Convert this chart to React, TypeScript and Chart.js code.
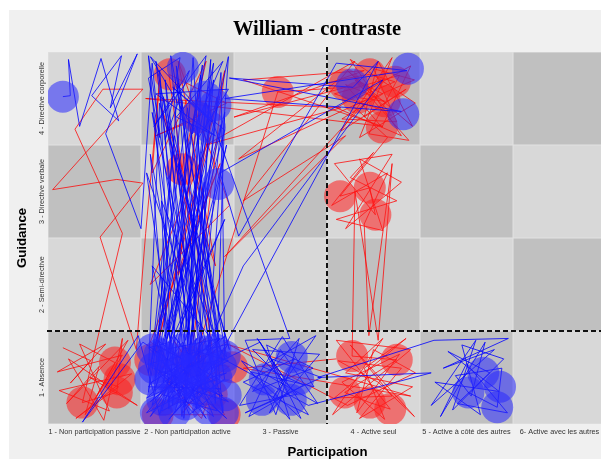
import React, { useEffect, useRef } from "react";
import { Chart, registerables } from "chart.js";
Chart.register(...registerables);

const chartTitle = "William - contraste";
const xTitle = "Participation";
const yTitle = "Guidance";
const xCategories = [
  "1 - Non participation passive",
  "2 - Non participation active",
  "3 - Passive",
  "4 - Active seul",
  "5 - Active à côté des autres",
  "6- Active avec les autres",
];
const yCategories = ["1 - Absence", "2 - Semi-directive", "3 - Directive verbale", "4 - Directive corporelle"];
const xSplit = 3.5;
const ySplit = 1.5;

const bluePath: [number, number][] = [
  [0.66, 4.02], [0.74, 4.03], [0.72, 4.42], [0.84, 3.7], [1.07, 4.43], [1.26, 3.76], [0.97, 4.03], [1.29, 4.46], [1.17, 3.9], [1.46, 4.48], [1.12, 3.62], [1.5, 2.6],
  [1.62, 4.38], [1.7, 3.58], [1.58, 4.22], [1.92, 4.44], [1.76, 3.56], [2.02, 4.3], [1.64, 3.7], [2.2, 4.46], [2.05, 3.62], [2.38, 4.4], [1.88, 3.8], [2.3, 3.6], [1.66, 4.05], [2.44, 4.1], [2.12, 3.58], [1.6, 4.45], [2.26, 3.75], [1.84, 4.12], [2.4, 3.66],
  [1.75, 1.3], [1.62, 0.7], [2.1, 1.42], [1.86, 0.62], [2.4, 1.2], [1.7, 1.05], [2.28, 0.58], [1.95, 1.38], [1.58, 0.9], [2.36, 0.88], [2.02, 0.6], [1.68, 1.4], [2.2, 1.0], [1.8, 0.55], [2.44, 1.36], [1.6, 1.15], [2.08, 0.78], [1.92, 1.22], [2.32, 0.64], [1.72, 0.82], [2.15, 1.3], [1.56, 0.62], [2.42, 1.05], [1.98, 0.92],
  [1.7, 4.3], [1.84, 0.7], [2.25, 4.42], [2.1, 0.66], [1.6, 3.4], [1.78, 1.25], [2.4, 3.85], [2.3, 0.72], [1.9, 4.2], [1.65, 1.0], [2.18, 3.1], [2.04, 1.35], [1.58, 4.46], [1.94, 0.58], [2.36, 4.28], [2.4, 1.2], [1.72, 2.9], [1.8, 0.66], [2.06, 4.44], [2.26, 1.1], [1.62, 3.85], [1.98, 1.4], [2.42, 3.5], [1.7, 0.6],
  [1.47, 1.45], [0.87, 0.52], [1.52, 1.38],
  [2.0, 1.05], [2.35, 1.42], [1.66, 1.28], [2.2, 0.56], [1.85, 1.15], [2.44, 0.74], [1.76, 0.96], [2.12, 1.18], [1.6, 0.74], [2.3, 1.3], [1.95, 0.68], [2.4, 0.98],
  [1.88, 4.35], [2.15, 0.9], [1.74, 4.02], [2.34, 1.4], [2.0, 3.9], [1.62, 1.2], [2.28, 4.38], [1.9, 0.8], [1.56, 3.2], [2.22, 1.26], [2.44, 4.45], [1.78, 1.42], [2.1, 3.7], [2.38, 0.62], [1.66, 4.4], [2.05, 1.1],
  [1.9, 3.3], [2.45, 1.3], [1.7, 3.95], [1.58, 1.05], [2.32, 4.02], [1.96, 0.56], [2.14, 4.25], [1.64, 0.86], [2.4, 2.7], [1.82, 1.38],
  [1.58, 1.32], [2.18, 0.7], [1.74, 1.16], [2.42, 0.56], [1.9, 1.06], [1.6, 0.58], [2.26, 1.4], [2.0, 0.72], [1.68, 1.34], [2.34, 0.98], [1.82, 0.84], [2.1, 1.26], [1.56, 0.78], [2.44, 1.18], [1.96, 1.32], [1.72, 0.64], [2.24, 0.9], [1.86, 1.44], [2.38, 0.8], [1.64, 1.1], [2.06, 0.62], [2.3, 1.16], [1.78, 0.74], [2.16, 1.38], [1.92, 0.96], [2.4, 1.44], [1.6, 0.94], [2.02, 1.2],
  [1.76, 4.2], [2.2, 0.84], [1.94, 3.98], [1.68, 1.18], [2.36, 3.72], [2.1, 1.0], [1.82, 4.46], [2.42, 1.22], [1.62, 2.2], [1.98, 0.76], [2.28, 4.2], [1.74, 0.94], [2.02, 2.5], [2.34, 1.2], [1.86, 3.6], [1.58, 0.84], [2.16, 4.36], [2.0, 1.36],
  [2.2, 3.95], [3.1, 1.42], [2.62, 1.4], [2.95, 0.6], [3.2, 1.42], [2.7, 0.85], [3.35, 1.1], [2.85, 1.35], [3.1, 0.55], [2.58, 1.18], [3.4, 0.72], [3.0, 1.3], [2.66, 0.58], [3.25, 0.92], [2.8, 1.12], [3.38, 1.45], [2.92, 0.78], [3.15, 1.2], [2.6, 0.95], [3.3, 0.6], [2.75, 1.42], [3.05, 0.98], [2.88, 0.62], [3.42, 1.25], [2.7, 1.3], [3.18, 0.82],
  [2.56, 0.7], [3.02, 1.44], [3.36, 0.9], [2.68, 1.06], [3.22, 0.56], [2.9, 1.2], [3.44, 1.0], [2.62, 0.62], [3.08, 0.82], [2.78, 1.38],
  [2.3, 1.15], [4.05, 4.4], [3.78, 4.12], [2.45, 4.22], [4.3, 3.86], [2.4, 4.0], [4.36, 4.3], [3.6, 4.38], [2.55, 2.52], [2.35, 3.2], [4.1, 4.2], [2.6, 2.2], [2.2, 1.3],
  [3.3, 0.7], [4.62, 1.05], [3.4, 1.0], [4.65, 1.4], [5.45, 1.42], [4.75, 1.1], [5.3, 1.3], [4.62, 0.7], [5.1, 1.4], [4.85, 0.65], [5.4, 1.2], [4.95, 1.35], [5.15, 0.6], [4.66, 0.95], [5.35, 0.85], [4.8, 1.28], [5.25, 1.05], [4.9, 0.72], [5.44, 0.62], [5.0, 1.15], [4.72, 0.58], [5.2, 1.38], [5.05, 0.8], [4.88, 1.02], [5.38, 1.1], [5.33, 0.68], [5.02, 0.84],
];

const redPath: [number, number][] = [
  [0.66, 1.32], [0.96, 1.18], [0.74, 0.94], [1.12, 1.36], [0.6, 1.06], [1.3, 1.24], [0.9, 0.6], [1.05, 1.12], [0.7, 0.72], [1.36, 1.4], [1.0, 0.76], [1.22, 1.16], [0.84, 1.36], [1.16, 0.64], [0.62, 0.86], [1.4, 1.04], [0.8, 0.56], [1.26, 0.9], [0.95, 1.0], [1.46, 0.7], [0.72, 1.2], [1.1, 0.54], [1.3, 1.42], [1.24, 0.84], [0.87, 0.73],
  [1.3, 2.55], [0.79, 3.67], [1.09, 4.1], [1.52, 4.1], [0.55, 3.02], [1.24, 3.13], [1.52, 3.09], [1.06, 2.51], [1.45, 1.3],
  [1.55, 2.55], [1.7, 4.2], [1.62, 3.2], [2.2, 4.4], [1.94, 3.24], [1.8, 4.26], [2.42, 3.95], [1.66, 3.6], [2.1, 3.78], [1.9, 2.1], [2.35, 3.3], [1.6, 1.38], [2.0, 1.17], [2.45, 1.12], [1.68, 0.6], [2.4, 0.6], [1.85, 1.4], [2.26, 0.82], [1.58, 1.2], [2.15, 0.56], [2.44, 1.4], [1.75, 0.88], [2.05, 1.3], [1.62, 0.66], [2.3, 1.06], [1.95, 0.62], [2.4, 1.3], [1.7, 1.1], [2.2, 1.42], [1.88, 0.74], [2.36, 0.7],
  [2.1, 2.4], [1.72, 3.9], [2.3, 2.2], [1.9, 4.4], [2.45, 2.85], [1.6, 2.0], [2.25, 3.6], [1.65, 1.25], [2.4, 4.3], [2.02, 1.02],
  [2.97, 4.07], [3.7, 4.12], [2.5, 3.8], [3.9, 4.3], [2.6, 4.2], [4.1, 3.7], [1.55, 4.0], [3.65, 3.9], [2.2, 3.5], [3.8, 4.4], [2.6, 2.9], [3.7, 3.6], [2.4, 2.3], [3.95, 4.0], [2.55, 3.35], [3.62, 4.2],
  [3.96, 4.26], [4.23, 4.18], [3.83, 4.01], [4.12, 3.97], [3.7, 4.15], [4.09, 3.69], [4.4, 4.35], [3.6, 3.9], [4.3, 3.6], [3.75, 4.42], [4.45, 3.95], [3.85, 3.58], [4.2, 4.44], [3.65, 3.65], [4.35, 4.1], [3.9, 3.8], [4.05, 4.4], [4.42, 3.7], [3.72, 4.3], [4.18, 3.85], [3.58, 4.05], [4.28, 4.25], [3.95, 3.62], [4.38, 3.55], [3.8, 4.2], [4.1, 4.05], [3.66, 3.78], [4.25, 3.75], [4.0, 4.32], [4.44, 4.2], [3.78, 3.92], [4.15, 3.58],
  [3.64, 2.95], [3.96, 3.04], [4.02, 2.75], [3.58, 3.3], [4.2, 3.4], [3.7, 2.6], [4.3, 3.1], [3.85, 3.35], [4.1, 2.58], [3.6, 2.7], [4.25, 2.9], [3.75, 3.15], [4.0, 3.42], [3.55, 2.85], [4.15, 3.2], [3.9, 2.65],
  [3.95, 1.45], [4.2, 3.3], [4.05, 1.4], [3.8, 3.0], [3.77, 1.23], [4.25, 1.19], [3.69, 0.84], [3.96, 0.73], [4.18, 0.66], [3.6, 1.4], [4.4, 1.3], [3.56, 0.6], [4.1, 1.42], [3.7, 1.05], [4.42, 0.9], [3.85, 0.56], [4.3, 1.1], [3.62, 1.18], [4.05, 0.95], [4.44, 0.58], [3.75, 1.35], [4.2, 0.8], [3.58, 0.78], [4.35, 1.42], [3.9, 1.1], [4.12, 0.55], [3.66, 0.95], [4.28, 1.25], [3.82, 0.62], [4.0, 1.3], [4.45, 1.05], [3.72, 0.7],
  [2.45, 1.35], [4.4, 0.8], [2.6, 1.1], [3.6, 1.2],
];

const blueBubbles: [number, number][] = [
  [0.66, 4.02], [1.95, 4.33], [2.19, 4.02], [2.3, 3.93], [2.09, 3.8], [2.24, 3.69], [2.33, 3.08],
  [1.7, 1.25], [1.94, 1.3], [2.19, 1.28], [2.4, 1.23], [1.79, 1.01], [2.05, 1.07], [2.31, 1.0], [2.41, 0.81], [1.73, 0.76], [1.98, 0.71], [2.22, 0.66], [1.88, 0.89], [2.13, 0.85], [1.6, 0.98],
  [1.62, 1.3], [1.84, 1.2], [2.3, 1.3], [1.66, 0.62], [2.38, 0.62], [2.1, 1.2], [1.86, 0.62], [2.06, 0.94], [1.64, 1.1], [2.36, 1.12], [1.94, 1.1], [2.18, 1.0],
  [3.12, 1.22], [2.83, 0.98], [3.19, 0.98], [2.8, 0.76], [3.11, 0.76],
  [3.77, 4.15], [4.37, 4.32], [4.32, 3.83],
  [5.18, 1.05], [5.36, 0.9], [5.02, 0.84], [5.33, 0.68],
];

const redBubbles: [number, number][] = [
  [1.22, 1.16], [1.27, 0.98], [1.24, 0.84], [0.87, 0.73],
  [1.81, 4.26], [2.11, 3.8], [1.94, 3.24],
  [1.6, 1.19], [2.48, 1.11], [1.68, 0.6], [2.4, 0.6], [2.03, 1.17], [2.26, 0.82],
  [2.97, 4.07],
  [3.96, 4.26], [4.23, 4.18], [3.83, 4.01], [4.12, 3.97], [4.09, 3.69], [3.69, 4.15],
  [3.64, 2.95], [3.96, 3.04], [4.02, 2.75],
  [3.77, 1.23], [4.25, 1.19], [3.69, 0.84], [3.96, 0.73], [4.18, 0.66],
];

const toPts = (a: [number, number][]) => a.map(([x, y]) => ({ x, y }));

const decor = {
  id: "decor",
  beforeDraw(chart: any) {
    const ctx = chart.ctx;
    ctx.save();
    ctx.fillStyle = "#ffffff";
    ctx.fillRect(0, 0, chart.width, chart.height);
    ctx.fillStyle = "#f0f0f0";
    ctx.fillRect(9, 10, chart.width - 9, chart.height - 10);
    ctx.restore();
  },
  beforeDatasetsDraw(chart: any) {
    const { ctx, chartArea } = chart;
    const xs = chart.scales.x;
    const ys = chart.scales.y;
    ctx.save();
    ctx.fillStyle = "#e2e2e2";
    ctx.fillRect(chartArea.left, chartArea.top, chartArea.right - chartArea.left, chartArea.bottom - chartArea.top);
    for (let c = 1; c <= xCategories.length; c++) {
      for (let r = 1; r <= yCategories.length; r++) {
        const x0 = xs.getPixelForValue(c - 0.5);
        const x1 = xs.getPixelForValue(c + 0.5);
        const y0 = ys.getPixelForValue(r + 0.5);
        const y1 = ys.getPixelForValue(r - 0.5);
        ctx.fillStyle = (c + r) % 2 === 0 ? "#c0c0c0" : "#d8d8d8";
        ctx.fillRect(x0 + 0.5, y0 + 0.5, x1 - x0 - 1, y1 - y0 - 1);
      }
    }
    ctx.restore();
  },
  afterDatasetsDraw(chart: any) {
    const { ctx, chartArea } = chart;
    const xs = chart.scales.x;
    const ys = chart.scales.y;
    ctx.save();
    ctx.strokeStyle = "#111111";
    ctx.lineWidth = 2;
    ctx.setLineDash([5, 3]);
    const vx = Math.round(xs.getPixelForValue(xSplit));
    ctx.beginPath();
    ctx.moveTo(vx, chartArea.top - 5);
    ctx.lineTo(vx, chartArea.bottom);
    ctx.stroke();
    const hy = Math.round(ys.getPixelForValue(ySplit));
    ctx.beginPath();
    ctx.moveTo(chartArea.left - 1, hy);
    ctx.lineTo(chartArea.right, hy);
    ctx.stroke();
    ctx.restore();
  },
  afterDraw(chart: any) {
    const { ctx, chartArea } = chart;
    const xs = chart.scales.x;
    const ys = chart.scales.y;
    ctx.save();
    ctx.fillStyle = "#333333";
    ctx.font = "7.3px 'Liberation Sans', Arial, sans-serif";
    ctx.textAlign = "center";
    ctx.textBaseline = "middle";
    xCategories.forEach((lab, i) => {
      ctx.fillText(lab, xs.getPixelForValue(i + 1), chartArea.bottom + 8);
    });
    yCategories.forEach((lab, i) => {
      ctx.save();
      ctx.translate(chartArea.left - 6, ys.getPixelForValue(i + 1));
      ctx.rotate(-Math.PI / 2);
      ctx.fillText(lab, 0, 0);
      ctx.restore();
    });
    ctx.fillStyle = "#000000";
    ctx.font = "bold 20.5px 'Liberation Serif', 'Times New Roman', serif";
    ctx.fillText(chartTitle, 317, 30);
    ctx.font = "bold 13.2px 'Liberation Sans', Arial, sans-serif";
    ctx.fillText(xTitle, 327.5, 452);
    ctx.save();
    ctx.translate(22, 238);
    ctx.rotate(-Math.PI / 2);
    ctx.fillText(yTitle, 0, 0);
    ctx.restore();
    ctx.restore();
  },
};

export default function App() {
  const ref = useRef<HTMLCanvasElement | null>(null);
  useEffect(() => {
    if (!ref.current) return;
    const chart = new Chart(ref.current, {
      type: "scatter",
      data: {
        datasets: [
          {
            data: toPts(blueBubbles),
            showLine: false,
            pointRadius: 16,
            pointBackgroundColor: "rgba(40,40,255,0.55)",
            pointBorderWidth: 0,
            borderColor: "rgba(0,0,0,0)",
          },
          {
            data: toPts(bluePath),
            showLine: true,
            pointRadius: 0,
            borderColor: "rgba(0,0,255,0.8)",
            borderWidth: 1,
            tension: 0,
          },
          {
            data: toPts(redBubbles),
            showLine: false,
            pointRadius: 16,
            pointBackgroundColor: "rgba(255,30,30,0.55)",
            pointBorderWidth: 0,
            borderColor: "rgba(0,0,0,0)",
          },
          {
            data: toPts(redPath),
            showLine: true,
            pointRadius: 0,
            borderColor: "rgba(255,0,0,0.75)",
            borderWidth: 1,
            tension: 0,
          },
        ],
      } as any,
      options: {
        animation: false,
        responsive: false,
        maintainAspectRatio: false,
        events: [],
        layout: { autoPadding: false, padding: { left: 48, top: 52, right: 0, bottom: 35 } },
        plugins: { legend: { display: false }, title: { display: false }, tooltip: { enabled: false } },
        scales: {
          x: { type: "linear", display: false, bounds: "data", min: 0.5, max: 6.446 },
          y: { type: "linear", display: false, bounds: "data", min: 0.5, max: 4.5 },
        },
      } as any,
      plugins: [decor],
    });
    return () => chart.destroy();
  }, []);
  return (
    <canvas
      ref={ref}
      width={601}
      height={459}
      style={{ position: "fixed", left: 0, top: 0, width: 601, height: 459, display: "block" }}
    />
  );
}
